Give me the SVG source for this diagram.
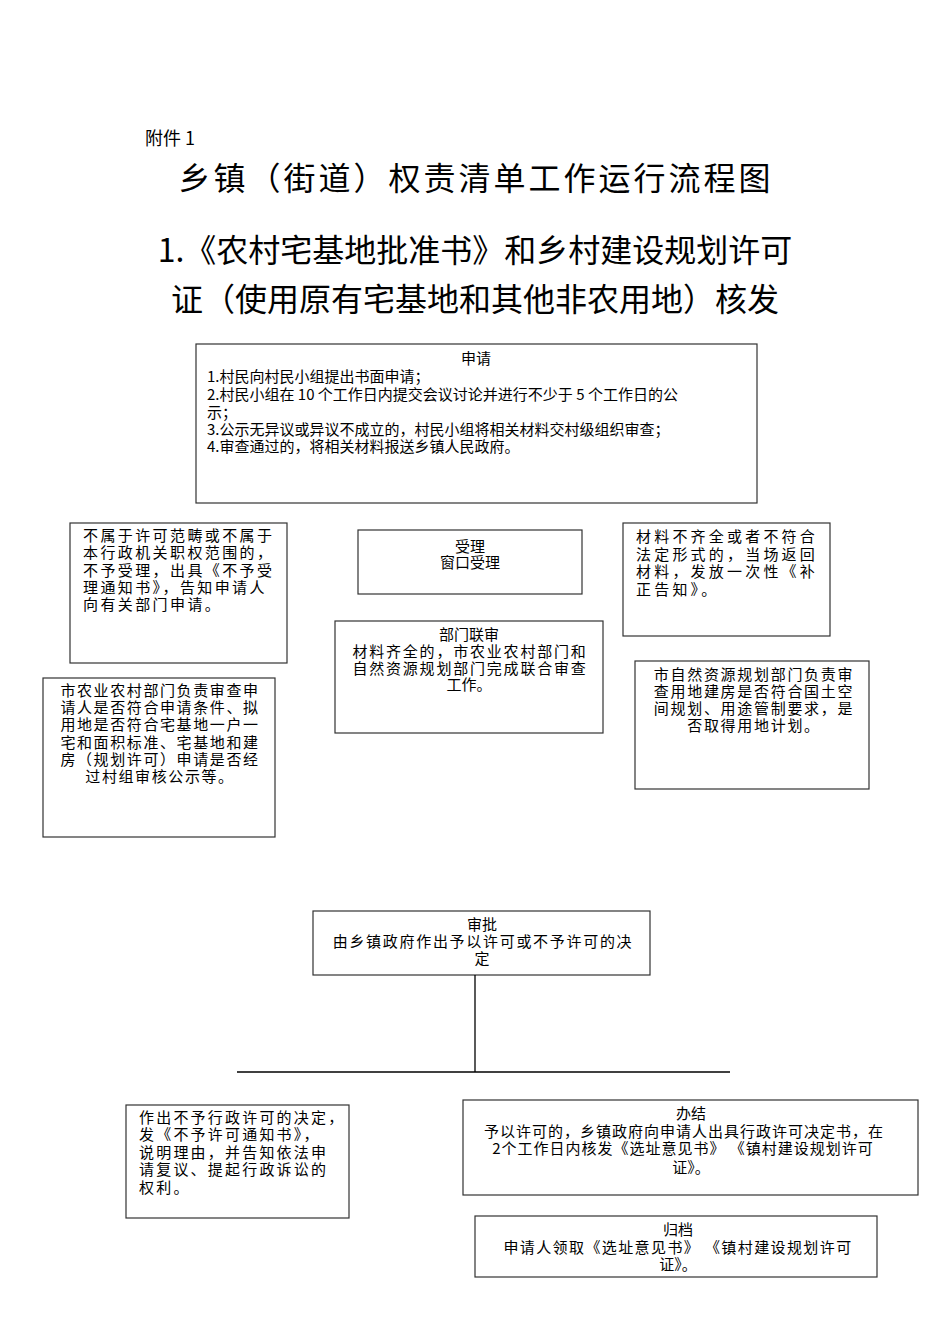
<svg xmlns="http://www.w3.org/2000/svg" width="950" height="1344" viewBox="0 0 950 1344">
<style>
text{font-family:"Noto Sans CJK SC","Noto Sans CJK TC",sans-serif;fill:#000}
.box{fill:#fff;stroke:#333;stroke-width:1.2}
.t{font-size:15px}
.c{text-anchor:middle}
.h1{font-size:32px}
.conn{stroke:#000;stroke-width:1.3;fill:none}
</style>
<rect width="950" height="1344" fill="#fff"/>
<g id="header">
<text x="145" y="145" font-size="18">附件 1</text>
<text x="476" y="190" class="h1 c" letter-spacing="3">乡镇（街道）权责清单工作运行流程图</text>
<text x="475" y="262" class="h1 c">1.《农村宅基地批准书》和乡村建设规划许可</text>
<text x="475" y="311" class="h1 c">证（使用原有宅基地和其他非农用地）核发</text>
</g>
<g id="n-apply" font-size="15">
<rect class="box" x="196" y="344" width="561" height="159"/>
<text x="476" y="364" class="c">申请</text>
<text x="207" y="382">1.村民向村民小组提出书面申请；</text>
<text x="207" y="400">2.村民小组在 10 个工作日内提交会议讨论并进行不少于 5 个工作日的公</text>
<text x="207" y="418">示；</text>
<text x="207" y="435">3.公示无异议或异议不成立的，村民小组将相关材料交村级组织审查；</text>
<text x="207" y="452">4.审查通过的，将相关材料报送乡镇人民政府。</text>
</g>
<g id="n-reject-accept" class="t" letter-spacing="2.4">
<rect class="box" x="70" y="523" width="217" height="140"/>
<text x="83" y="541">不属于许可范畴或不属于</text>
<text x="83" y="558">本行政机关职权范围的，</text>
<text x="83" y="576">不予受理，出具《不予受</text>
<text x="83" y="593">理通知书》，告知申请人</text>
<text x="83" y="610">向有关部门申请。</text>
</g>
<g id="n-accept" class="t">
<rect class="box" x="358" y="530" width="224" height="64"/>
<text x="470" y="552" class="c">受理</text>
<text x="470" y="568" class="c">窗口受理</text>
</g>
<g id="n-supplement" class="t" letter-spacing="3.2">
<rect class="box" x="623" y="523" width="207" height="113"/>
<text x="636" y="542">材料不齐全或者不符合</text>
<text x="636" y="560">法定形式的，当场返回</text>
<text x="636" y="577">材料，发放一次性《补</text>
<text x="636" y="595">正告知》。</text>
</g>
<g id="n-joint" class="t">
<rect class="box" x="335" y="621" width="268" height="112"/>
<text x="469" y="640" class="c">部门联审</text>
<text x="470" y="657" class="c" letter-spacing="1.8">材料齐全的，市农业农村部门和</text>
<text x="470" y="674" class="c" letter-spacing="1.8">自然资源规划部门完成联合审查</text>
<text x="469" y="690" class="c">工作。</text>
</g>
<g id="n-agri" class="t" letter-spacing="1.6">
<rect class="box" x="43" y="678" width="232" height="159"/>
<text x="160" y="696" class="c">市农业农村部门负责审查申</text>
<text x="160" y="713" class="c">请人是否符合申请条件、拟</text>
<text x="160" y="730" class="c">用地是否符合宅基地一户一</text>
<text x="160" y="748" class="c">宅和面积标准、宅基地和建</text>
<text x="160" y="765" class="c">房（规划许可）申请是否经</text>
<text x="160" y="782" class="c">过村组审核公示等。</text>
</g>
<g id="n-resource" class="t" letter-spacing="1.7">
<rect class="box" x="635" y="661" width="234" height="128"/>
<text x="754" y="680" class="c">市自然资源规划部门负责审</text>
<text x="754" y="697" class="c">查用地建房是否符合国土空</text>
<text x="754" y="714" class="c">间规划、用途管制要求，是</text>
<text x="754" y="731" class="c">否取得用地计划。</text>
</g>
<g id="n-approve" class="t">
<rect class="box" x="313" y="911" width="337" height="64"/>
<text x="482" y="930" class="c">审批</text>
<text x="483" y="947" class="c" letter-spacing="1.7">由乡镇政府作出予以许可或不予许可的决</text>
<text x="482" y="964" class="c">定</text>
</g>
<g id="connectors">
<line class="conn" x1="475" y1="975" x2="475" y2="1072"/>
<line class="conn" x1="237" y1="1072" x2="730" y2="1072"/>
</g>
<g id="n-deny" class="t" letter-spacing="2.2">
<rect class="box" x="126" y="1105" width="223" height="113"/>
<text x="139" y="1123">作出不予行政许可的决定，</text>
<text x="139" y="1140">发《不予许可通知书》，</text>
<text x="139" y="1158">说明理由，并告知依法申</text>
<text x="139" y="1175">请复议、提起行政诉讼的</text>
<text x="139" y="1193">权利。</text>
</g>
<g id="n-finish" class="t">
<rect class="box" x="463" y="1100" width="455" height="95"/>
<text x="691" y="1119" class="c">办结</text>
<text x="684" y="1137" class="c" letter-spacing="1">予以许可的，乡镇政府向申请人出具行政许可决定书，在</text>
<text x="683" y="1154" class="c" letter-spacing="1">2个工作日内核发《选址意见书》 《镇村建设规划许可</text>
<text x="691" y="1173" class="c">证》。</text>
</g>
<g id="n-archive" class="t">
<rect class="box" x="475" y="1216" width="402" height="61"/>
<text x="678" y="1235" class="c">归档</text>
<text x="678" y="1253" class="c" letter-spacing="1.4">申请人领取《选址意见书》 《镇村建设规划许可</text>
<text x="678" y="1270" class="c">证》。</text>
</g>
</svg>
